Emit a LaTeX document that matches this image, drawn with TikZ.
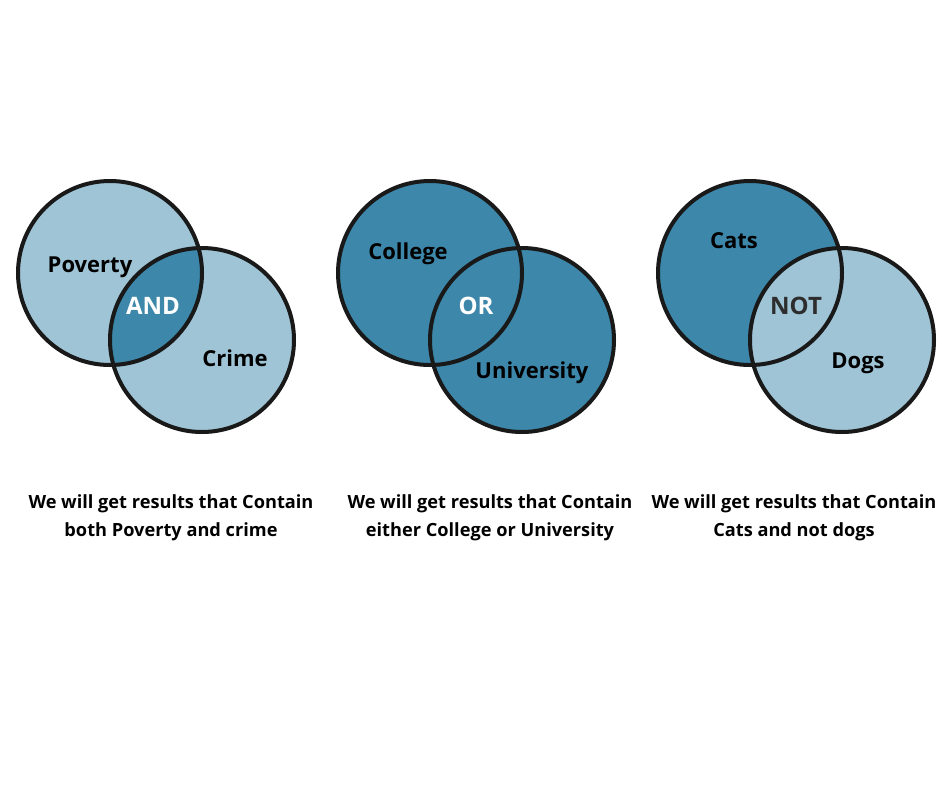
\documentclass[tikz,border=0pt]{standalone}
\usepackage{fontspec}
\setmainfont{Open Sans}
\definecolor{paleblue}{RGB}{158,196,214}
\definecolor{deepblue}{RGB}{61,135,170}
\definecolor{notgray}{RGB}{45,45,45}

\begin{document}
\begin{tikzpicture}[x=1pt, y=-1pt,
    ring/.style={line width=4pt, black!90},
    termtext/.style={font=\bfseries\fontsize{22}{26}\selectfont},
    optext/.style={font=\bfseries\fontsize{24}{28}\selectfont},
    captext/.style={font=\bfseries\fontsize{18.2}{28}\selectfont, align=center}]

    \useasboundingbox (0, 0) rectangle (940, 788);

    % AND
    \fill[paleblue] (110, 273) circle (92pt);
    \fill[paleblue] (202, 340) circle (92pt);
    \begin{scope}
        \clip (110, 273) circle (92pt);
        \fill[deepblue] (202, 340) circle (92pt);
    \end{scope}
    \draw[ring] (110, 273) circle (92pt);
    \draw[ring] (202, 340) circle (92pt);

    \node[termtext] (poverty) at (90, 267) {Poverty};
    \node[optext, white] (andop) at (153, 306) {AND};
    \node[termtext] (crime) at (235, 358) {Crime};
    \node[captext] (andcap) at (171, 518) {We will get results that Contain\\both Poverty and crime};

    % OR
    \fill[deepblue] (430, 273) circle (92pt);
    \fill[deepblue] (522, 340) circle (92pt);
    \draw[ring] (430, 273) circle (92pt);
    \draw[ring] (522, 340) circle (92pt);

    \node[termtext] (college) at (408, 254) {College};
    \node[optext, white] (orop) at (476, 306) {OR};
    \node[termtext] (university) at (532, 373) {University};
    \node[captext] (orcap) at (490, 518) {We will get results that Contain\\either College or University};

    % NOT
    \fill[deepblue] (750, 273) circle (92pt);
    \fill[paleblue] (842, 340) circle (92pt);
    \draw[ring] (750, 273) circle (92pt);
    \draw[ring] (842, 340) circle (92pt);

    \node[termtext] (cats) at (734, 241) {Cats};
    \node[optext, notgray] (notop) at (796, 306) {NOT};
    \node[termtext] (dogs) at (858, 363) {Dogs};
    \node[captext] (notcap) at (794, 518) {We will get results that Contain\\Cats and not dogs};

\end{tikzpicture}
\end{document}
